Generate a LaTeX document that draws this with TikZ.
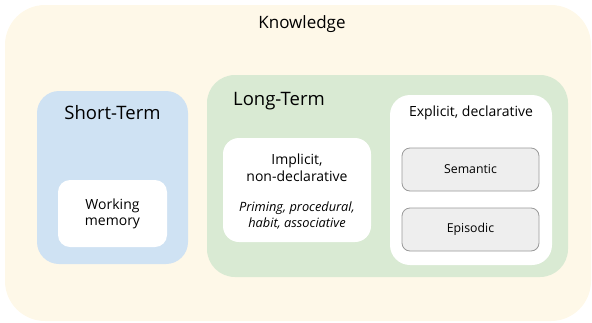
\documentclass[tikz,border=0pt]{standalone}
\usepackage{fontspec}
\setmainfont{Open Sans}
\definecolor{cream}{HTML}{FEF8E8}
\definecolor{stblue}{HTML}{CFE2F3}
\definecolor{ltgreen}{HTML}{D9EAD3}
\definecolor{boxgray}{HTML}{EEEEEE}
\definecolor{boxline}{HTML}{999999}
\tikzset{
  region/.style={rounded corners=#1, draw=none, inner sep=0pt},
  subbox/.style={region=8pt, fill=boxgray, draw=boxline, line width=0.8pt, minimum width=137pt, minimum height=43pt, font=\fontsize{12.3}{14}\selectfont},
  title/.style={inner sep=0pt, font=\fontsize{18.5}{22}\selectfont},
  label/.style={inner sep=0pt, font=\fontsize{14}{17}\selectfont, align=center}
}
\begin{document}
\begin{tikzpicture}[x=1pt,y=-1pt]
\useasboundingbox (0,0) rectangle (592,322);
\node[region=40pt, fill=cream, minimum width=586pt, minimum height=316pt] (outer) at (298,163) {};
\node[title, font=\fontsize{17}{20}\selectfont] (know) at (302,24) {Knowledge};
\node[region=22pt, fill=stblue, minimum width=151pt, minimum height=173pt] (short) at (112.5,177.5) {};
\node[title] (shortt) at (112.5,113) {Short-Term};
\node[region=12pt, fill=white, minimum width=109pt, minimum height=67pt, label, font=\fontsize{14}{16}\selectfont] (work) at (112.5,213.5) {Working\\memory};
\node[region=28pt, fill=ltgreen, minimum width=361pt, minimum height=202pt] (long) at (387.5,176) {};
\node[title, anchor=west] (longt) at (233,101) {Long-Term};
\node[region=16pt, fill=white, minimum width=148pt, minimum height=104pt] (impl) at (297,190) {};
\node[label] (implt) at (297,167.5) {Implicit,\\non-declarative};
\node[label, font=\fontsize{12.8}{16}\itshape\selectfont] (implsub) at (297,215) {Priming, procedural,\\habit, associative};
\node[region=20pt, fill=white, minimum width=162pt, minimum height=170pt] (expl) at (471,180) {};
\node[label] (explt) at (471,113) {Explicit, declarative};
\node[subbox] (sem) at (470.5,169.5) {Semantic};
\node[subbox] (epi) at (470.5,229.5) {Episodic};
\end{tikzpicture}
\end{document}
